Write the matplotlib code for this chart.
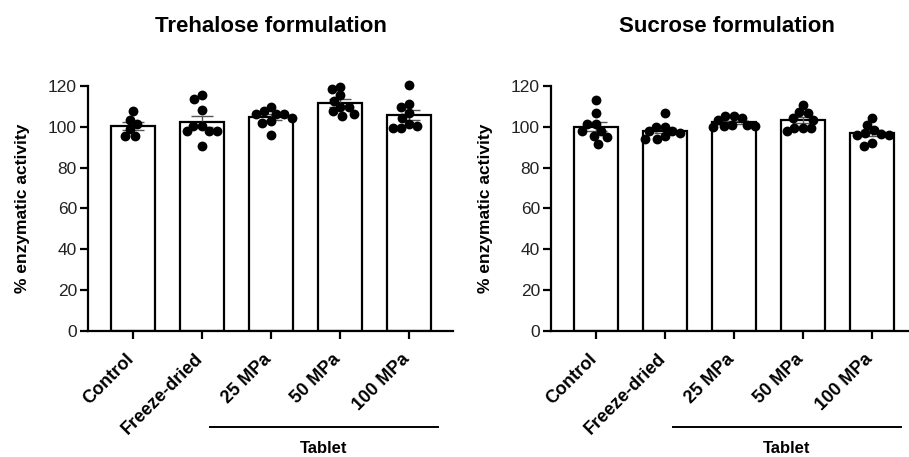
import numpy as np
import matplotlib
matplotlib.use("Agg")
import matplotlib.pyplot as plt
import matplotlib.transforms as mtransforms

plt.rcParams['font.family'] = ['Liberation Sans', 'DejaVu Sans']

categories = ["Control", "Freeze-dried", "25 MPa", "50 MPa", "100 MPa"]
group_label = "Tablet"
titles = ["Trehalose formulation", "Sucrose formulation"]
ylabel = "% enzymatic activity"
yticks = [0, 20, 40, 60, 80, 100, 120]

trehalose = [
    [103.7, 95.8, 99.3, 107.7, 101.3, 95.8],
    [115.7, 113.6, 108.6, 100.8, 98.3, 98.3, 98.3, 100.8, 90.5],
    [110.1, 106.7, 104.7, 106.7, 107.8, 106.7, 102.2, 102.9, 96.3],
    [119.9, 118.9, 115.7, 112.7, 109.8, 109.8, 107.8, 106.5, 105.7],
    [120.7, 109.8, 111.6, 107.0, 104.5, 99.6, 101.6, 99.6, 100.4],
]
sucrose = [
    [113.1, 107.0, 101.3, 101.3, 97.9, 97.9, 95.2, 95.5, 91.9],
    [107.0, 100.1, 97.9, 100.1, 97.1, 94.2, 95.5, 94.2, 97.9],
    [104.5, 100.9, 100.4, 103.4, 105.3, 105.3, 100.1, 100.4, 101.2],
    [111.1, 107.3, 107.0, 104.5, 103.7, 99.6, 99.6, 99.6, 97.9],
    [104.5, 101.2, 98.8, 96.6, 97.1, 96.3, 95.9, 92.2, 90.5],
]
datasets = [trehalose, sucrose]

fig = plt.figure(figsize=(9.09, 4.57), dpi=100)
axes_rects = [[88/909, 0.2768, 365/909, 0.534], [551/909, 0.2768, 365/909, 0.534]]
title_x = [0.501, 0.482]

XL = (-0.65, 4.64)
YL = (0, 120)


def swarm(vals, ax, marker_px):
    """Simple beeswarm: offsets in data x-units computed in pixel space."""
    bbox = ax.get_window_extent()
    px_per_x = bbox.width / (XL[1] - XL[0])
    px_per_y = bbox.height / (YL[1] - YL[0])
    ys = np.array(vals) * px_per_y
    order = np.argsort(-ys)
    placed = []
    offs = np.zeros(len(vals))
    for i in order:
        cands = [0.0]
        for (py, px) in placed:
            dy = ys[i] - py
            if abs(dy) < marker_px:
                dx = np.sqrt(marker_px**2 - dy**2)
                cands += [px + dx, px - dx]
        cands = sorted(cands, key=lambda c: (abs(c), c))
        for c in cands:
            ok = all((ys[i]-py)**2 + (c-px)**2 >= marker_px**2 - 1e-6 for (py, px) in placed)
            if ok:
                offs[i] = c
                placed.append((ys[i], c))
                break
    return offs / px_per_x


for k, (data, title) in enumerate(zip(datasets, titles)):
    ax = fig.add_axes(axes_rects[k])
    ax.set_xlim(*XL)
    ax.set_ylim(*YL)
    x = np.arange(len(categories))
    means = [np.mean(v) for v in data]
    sems = [np.std(v, ddof=1) / np.sqrt(len(v)) for v in data]
    ax.bar(x, means, width=0.64, color='white', edgecolor='black', linewidth=1.6, zorder=2)
    ax.errorbar(x, means, yerr=sems, fmt='none', ecolor='#555555', elinewidth=1.0,
                capsize=8, capthick=1.0, zorder=3)
    for i, v in enumerate(data):
        offs = swarm(v, ax, 8.5)
        ax.scatter(x[i] + offs, v, s=50, color='black', zorder=4, linewidths=0, clip_on=False)

    for s in ['top', 'right']:
        ax.spines[s].set_visible(False)
    for s in ['left', 'bottom']:
        ax.spines[s].set_linewidth(1.6)
    ax.set_yticks(yticks)
    ax.tick_params(axis='y', length=6, width=1.6, labelsize=12.5, labelcolor='#222222', pad=2)
    ax.tick_params(axis='x', length=6, width=1.6, pad=4)
    ax.set_xticks(x)
    ax.set_xticklabels(categories, rotation=45, ha='right', va='top', rotation_mode='anchor',
                       fontsize=13, fontweight='bold')
    for lab in ax.get_xticklabels():
        lab.set_transform(lab.get_transform() + mtransforms.ScaledTranslation(-8/100, -6/100, fig.dpi_scale_trans))
    ax.set_ylabel(ylabel, fontsize=12.5, fontweight='bold', labelpad=13)
    ax.set_title(title, fontsize=16, fontweight='bold', pad=39, x=title_x[k])

    trans = mtransforms.blended_transform_factory(ax.transData, ax.transAxes)
    ax.plot([1.12, 4.42], [-0.395, -0.395], color='black', lw=1.4, transform=trans, clip_on=False)
    ax.text(2.77, -0.485, group_label, transform=trans, ha='center', va='center',
            fontsize=12, fontweight='bold')

fig.savefig("out.png", dpi=100)
